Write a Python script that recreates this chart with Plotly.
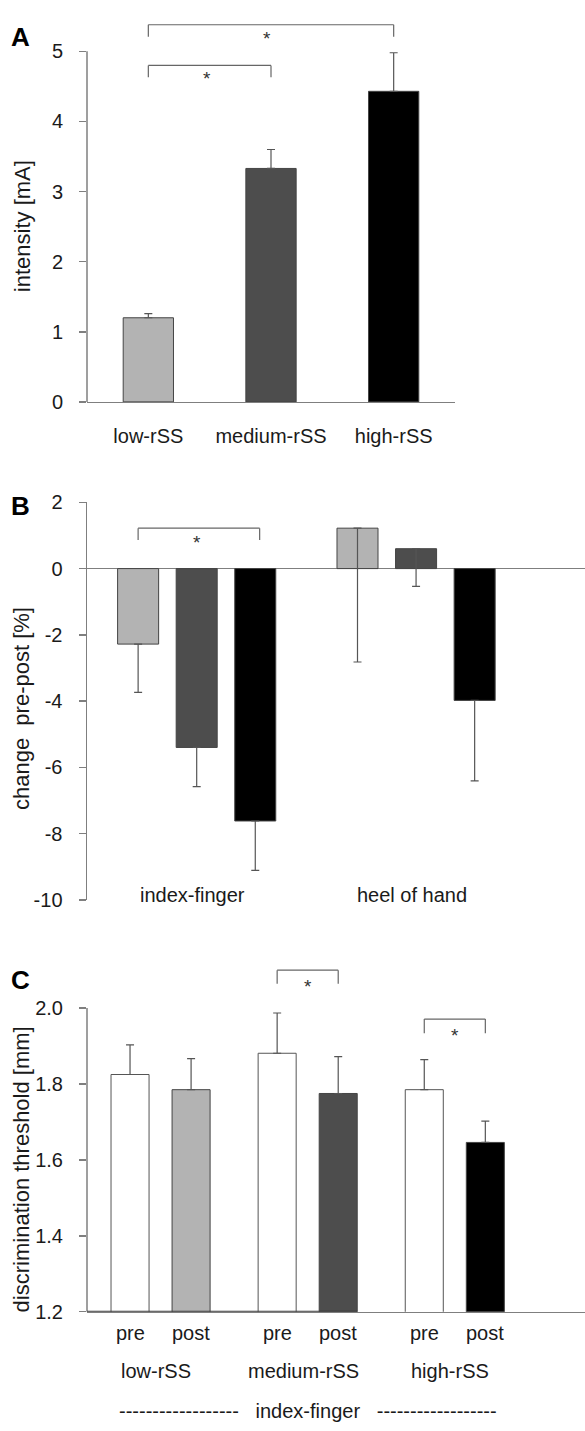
import plotly.graph_objects as go

W, H = 585, 1431
FONT = "Liberation Sans, Arial, Helvetica, sans-serif"
TXT = "#1a1a1a"
AX = "#7f7f7f"
LIGHT, DARK, BLACK, WHITE = "#b3b3b3", "#4d4d4d", "#000000", "#ffffff"
OUTLINE = "#444444"
ERRC = "#555555"

# ---------------- data ----------------
# Panel A
a_categories = ["low-rSS", "medium-rSS", "high-rSS"]
a_intensity = [1.20, 3.33, 4.43]
a_error = [0.06, 0.27, 0.55]
a_ticks = [0, 1, 2, 3, 4, 5]

# Panel B
b_sites = ["index-finger", "heel of hand"]
b_low = [-2.28, 1.22]
b_low_err = [1.46, 4.04]
b_medium = [-5.40, 0.60]
b_medium_err = [1.18, 1.14]
b_high = [-7.62, -3.98]
b_high_err = [1.49, 2.43]
b_ticks = [2, 0, -2, -4, -6, -8, -10]

# Panel C
c_categories = ["low-rSS", "medium-rSS", "high-rSS"]
c_sessions = ["pre", "post"]
c_pre = [1.825, 1.881, 1.785]
c_pre_err = [0.078, 0.106, 0.079]
c_post = [1.785, 1.775, 1.646]
c_post_err = [0.082, 0.097, 0.056]
c_ticks = [1.2, 1.4, 1.6, 1.8, 2.0]
c_group_label = "index-finger"

level_colors = [LIGHT, DARK, BLACK]


def dom_y(top_px, bottom_px):
    return [1 - bottom_px / H, 1 - top_px / H]


fig = go.Figure()

# ---------------- Panel A ----------------
fig.add_trace(go.Bar(
    x=a_categories, y=a_intensity, width=0.41,
    marker=dict(color=level_colors, line=dict(color=OUTLINE, width=1)),
    error_y=dict(type="data", symmetric=False, array=a_error,
                 arrayminus=[0] * len(a_error), color=ERRC, thickness=1.2, width=4),
    xaxis="x", yaxis="y", showlegend=False, hoverinfo="skip",
))

# ---------------- Panel B ----------------
b_w = 0.187
b_step = 0.267
for k, (vals, errs) in enumerate([(b_low, b_low_err), (b_medium, b_medium_err),
                                   (b_high, b_high_err)]):
    fig.add_trace(go.Bar(
        x=b_sites, y=vals, width=b_w, offset=(k - 1) * b_step - b_w / 2,
        marker=dict(color=level_colors[k], line=dict(color=OUTLINE, width=1)),
        error_y=dict(type="data", symmetric=False, array=[0] * len(errs),
                     arrayminus=errs, color=ERRC, thickness=1.2, width=4),
        xaxis="x2", yaxis="y2", showlegend=False, hoverinfo="skip",
    ))

# ---------------- Panel C ----------------
c_w = 0.2585
c_step = 0.2075
fig.add_trace(go.Bar(
    x=c_categories, y=c_pre, width=c_w, offset=-c_step - c_w / 2,
    marker=dict(color=WHITE, line=dict(color="#555555", width=1)),
    error_y=dict(type="data", symmetric=False, array=c_pre_err,
                 arrayminus=[0] * 3, color=ERRC, thickness=1.2, width=4),
    xaxis="x3", yaxis="y3", showlegend=False, hoverinfo="skip",
))
fig.add_trace(go.Bar(
    x=c_categories, y=c_post, width=c_w, offset=c_step - c_w / 2,
    marker=dict(color=level_colors, line=dict(color=OUTLINE, width=1)),
    error_y=dict(type="data", symmetric=False, array=c_post_err,
                 arrayminus=[0] * 3, color=ERRC, thickness=1.2, width=4),
    xaxis="x3", yaxis="y3", showlegend=False, hoverinfo="skip",
))

tickfont = dict(family=FONT, size=20, color=TXT)
common_y = dict(showgrid=False, ticks="outside", ticklen=7, tickwidth=1.5,
                tickcolor=AX, tickfont=tickfont, ticklabelstandoff=12,
                fixedrange=True)

fig.update_layout(
    width=W, height=H,
    margin=dict(l=0, r=0, t=0, b=0),
    paper_bgcolor="white", plot_bgcolor="white",
    font=dict(family=FONT, color=TXT),
    barmode="group",
    xaxis=dict(domain=[87 / W, 455 / W], anchor="y", type="category",
               range=[-0.5, 2.5], showline=True, linecolor=AX, linewidth=1.5,
               ticks="", tickfont=tickfont, ticklabelstandoff=16,
               showgrid=False, zeroline=False, fixedrange=True),
    yaxis=dict(domain=dom_y(5.4, 397), anchor="x", range=[0, 5.5],
               tickvals=a_ticks, ticktext=[str(v) for v in a_ticks],
               showline=False, zeroline=False, **common_y),
    xaxis2=dict(domain=[87 / W, 1], anchor="y2", type="category",
                range=[-0.5, 1.77], showline=False, showticklabels=False,
                ticks="", showgrid=False, zeroline=False, fixedrange=True),
    yaxis2=dict(domain=dom_y(499, 902.7), anchor="x2", range=[-10, 2],
                tickvals=b_ticks, ticktext=[str(v) for v in b_ticks],
                showline=True, linecolor=AX, linewidth=1.5,
                zeroline=True, zerolinecolor=AX, zerolinewidth=1.5, **common_y),
    xaxis3=dict(domain=[87 / W, 1], anchor="y3", type="category",
                range=[-0.5, 2.885], showline=True, linecolor=AX, linewidth=1.5,
                showticklabels=False, ticks="", showgrid=False, zeroline=False,
                fixedrange=True),
    yaxis3=dict(domain=dom_y(958.7, 1321), anchor="x3", range=[1.2, 2.14],
                tickvals=c_ticks, ticktext=["%.1f" % v for v in c_ticks],
                showline=False, zeroline=False, **common_y),
)

shapes = []
annotations = []

# y-axis lines for panels A and C (only over the labelled range)
shapes.append(dict(type="line", xref="x domain", yref="y", x0=0, x1=0,
                   y0=a_ticks[0], y1=a_ticks[-1], line=dict(color=AX, width=1.5)))
shapes.append(dict(type="line", xref="x3 domain", yref="y3", x0=0, x1=0,
                   y0=c_ticks[0], y1=c_ticks[-1], line=dict(color=AX, width=1.5)))
# darker baseline segment under the first two groups in panel C
shapes.append(dict(type="line", xref="x3", yref="y3", x0=-0.5,
                   x1=1 + c_step + c_w / 2, y0=c_ticks[0], y1=c_ticks[0],
                   line=dict(color="#3a3a3a", width=2)))


def bracket(xr, yr, x0, x1, ytop, yleg, xs, ys):
    lc = dict(color="#666666", width=1.2)
    shapes.append(dict(type="line", xref=xr, yref=yr, x0=x0, x1=x1, y0=ytop, y1=ytop, line=lc))
    shapes.append(dict(type="line", xref=xr, yref=yr, x0=x0, x1=x0, y0=ytop, y1=yleg, line=lc))
    shapes.append(dict(type="line", xref=xr, yref=yr, x0=x1, x1=x1, y0=ytop, y1=yleg, line=lc))
    annotations.append(dict(xref=xr, yref=yr, x=xs, y=ys, text="*", showarrow=False,
                            xanchor="center", yanchor="middle",
                            font=dict(family=FONT, size=19, color="#333333")))


# Panel A brackets
bracket("x", "y", 0, 2, 5.38, 5.21, 0.97, 5.19)
bracket("x", "y", 0, 1, 4.80, 4.63, 0.48, 4.61)
# Panel B bracket
bracket("x2", "y2", -b_step, b_step + 0.02, 1.22, 0.86, 0.0, 0.80)
# Panel C brackets
bracket("x3", "y3", 1 - c_step, 1 + c_step, 2.100, 2.064, 1.0, 2.058)
bracket("x3", "y3", 2 - c_step, 2 + c_step, 1.971, 1.934, 2.0, 1.929)

# Panel B category labels (at the bottom of the value range)
for i, s in enumerate(b_sites):
    annotations.append(dict(xref="x2", yref="y2", x=i - 0.02, y=-10, yshift=5,
                            text=s, showarrow=False, xanchor="center",
                            yanchor="middle", font=tickfont))

# Panel C labels
for i, cat in enumerate(c_categories):
    for j, sess in enumerate(c_sessions):
        annotations.append(dict(xref="x3", yref="y3 domain", x=i + (2 * j - 1) * c_step,
                                y=0, yshift=-21, text=sess, showarrow=False,
                                xanchor="center", yanchor="middle", font=tickfont))
    annotations.append(dict(xref="x3", yref="y3 domain", x=i - 0.03, y=0, yshift=-59,
                            text=cat, showarrow=False, xanchor="center",
                            yanchor="middle", font=tickfont))
dashes = "-" * 18
annotations.append(dict(xref="x3", yref="y3 domain", x=1.0, y=0, yshift=-99,
                        text=dashes + "\u00a0\u00a0 " + c_group_label + " \u00a0\u00a0" + dashes,
                        showarrow=False, xanchor="center", yanchor="middle",
                        font=tickfont))

# y-axis titles
title_font = dict(family=FONT, size=22, color=TXT)
annotations.append(dict(xref="paper", yref="y", x=22.5 / W, y=2.5, text="intensity [mA]",
                        textangle=-90, showarrow=False, xanchor="center",
                        yanchor="middle", font=title_font))
annotations.append(dict(xref="paper", yref="y2", x=21 / W, y=-4.24,
                        text="change\u00a0 pre-post [%]", textangle=-90,
                        showarrow=False, xanchor="center", yanchor="middle",
                        font=title_font))
annotations.append(dict(xref="paper", yref="y3", x=21 / W, y=1.575,
                        text="discrimination threshold [mm]", textangle=-90,
                        showarrow=False, xanchor="center", yanchor="middle",
                        font=title_font))

# panel letters
letter_font = dict(family=FONT, size=26, color="#000000")
for letter, py in [("A", 26), ("B", 503), ("C", 984)]:
    annotations.append(dict(xref="paper", yref="paper", x=20 / W, y=1 - py / H,
                            text="<b>" + letter + "</b>", showarrow=False,
                            xanchor="center", yanchor="middle", font=letter_font))

fig.update_layout(shapes=shapes, annotations=annotations)
fig.write_html("out.html", config={"displayModeBar": False, "staticPlot": True},
               post_script="document.body.style.margin='0px';document.body.style.overflow='hidden';")
